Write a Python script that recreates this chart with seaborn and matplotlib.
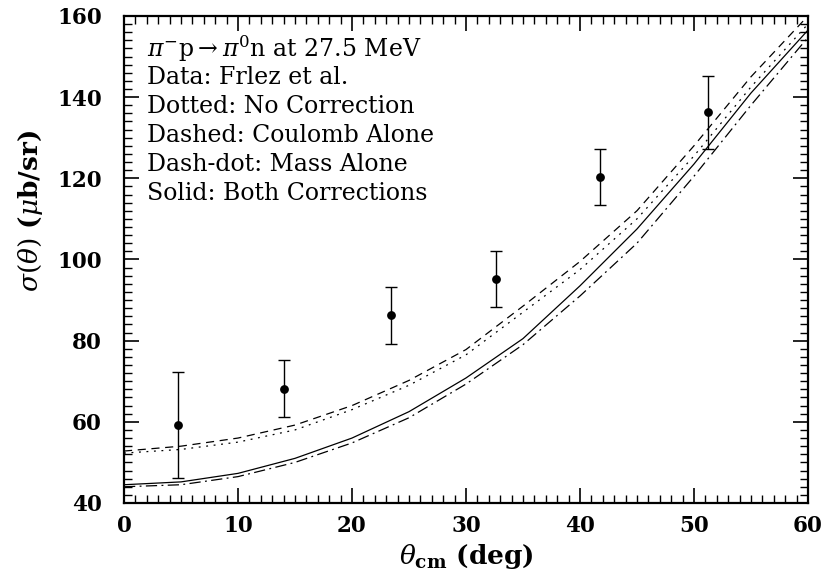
import numpy as np
import pandas as pd
import matplotlib
matplotlib.use("Agg")
import matplotlib.pyplot as plt
import seaborn as sns
from matplotlib.ticker import MultipleLocator

# measured cross sections (Frlez et al.)
theta_data = [4.7, 14.0, 23.4, 32.6, 41.8, 51.2]
sigma_data = [59.2, 68.2, 86.2, 95.2, 120.3, 136.3]
sigma_err = [13.0, 7.0, 7.0, 7.0, 7.0, 9.0]

# model curves
theta_curve = [0, 5, 10, 15, 20, 25, 30, 35, 40, 45, 50, 55, 60]
sigma_none = [52.3, 53.2, 55.0, 58.0, 63.0, 69.0, 76.5, 87.0, 97.5, 110.0, 125.5, 142.5, 158.0]
sigma_coulomb = [52.8, 54.0, 56.0, 59.2, 64.0, 70.2, 77.8, 88.5, 99.5, 112.0, 128.0, 145.0, 160.0]
sigma_mass = [44.0, 44.5, 46.5, 50.0, 54.8, 61.0, 69.3, 79.0, 91.0, 104.0, 120.5, 138.0, 154.7]
sigma_both = [44.5, 45.2, 47.3, 51.0, 56.0, 62.5, 70.8, 80.5, 93.5, 107.5, 123.5, 141.0, 156.5]

sns.set_style("ticks")
plt.rcParams['font.family'] = ['DejaVu Serif']
plt.rcParams['mathtext.fontset'] = 'dejavuserif'
plt.rcParams['text.color'] = 'black'
plt.rcParams['axes.labelcolor'] = 'black'

fig = plt.figure(figsize=(8.24, 5.84), dpi=100)
ax = fig.add_axes([0.1505, 0.1387, 0.830, 0.834])

curves = [
    (sigma_none, (0, (1.5, 4.5))),
    (sigma_coulomb, (0, (6.5, 4.5))),
    (sigma_mass, (0, (9, 3.5, 1.5, 3.5))),
    (sigma_both, '-'),
]
for vals, ls in curves:
    df = pd.DataFrame({'theta': theta_curve, 'sigma': vals})
    sns.lineplot(data=df, x='theta', y='sigma', ax=ax, color='black',
                 linewidth=0.9, linestyle=ls)

ax.errorbar(theta_data, sigma_data, yerr=sigma_err, fmt='none', ecolor='black',
            elinewidth=1.0, capsize=4.5, capthick=1.0)
sns.scatterplot(x=theta_data, y=sigma_data, ax=ax, color='black', s=40,
                edgecolor='black', linewidth=0, zorder=5)

ax.set_xlim(0, 60)
ax.set_ylim(40, 160)
ax.xaxis.set_major_locator(MultipleLocator(10))
ax.xaxis.set_minor_locator(MultipleLocator(1))
ax.yaxis.set_major_locator(MultipleLocator(20))
ax.yaxis.set_minor_locator(MultipleLocator(2))
ax.tick_params(which='both', direction='in', top=True, right=True, color='black',
               labelcolor='black')
ax.tick_params(which='major', length=11, width=1.2, labelsize=15.5)
ax.tick_params(axis='x', which='major', pad=9)
ax.tick_params(axis='y', which='major', pad=16)
ax.tick_params(which='minor', length=5.5, width=1.0)
for lab in ax.get_xticklabels() + ax.get_yticklabels():
    lab.set_fontweight('bold')
for sp in ax.spines.values():
    sp.set_linewidth(1.6)
    sp.set_color('black')

ax.set_xlabel(r'$\theta_{\mathbf{cm}}$ (deg)', fontsize=19, fontweight='bold')
ax.set_ylabel(r'$\sigma(\theta)$ ($\mu$b/sr)', fontsize=19, fontweight='bold')
ax.xaxis.set_label_coords(0.5, -0.08)
ax.yaxis.set_label_coords(-0.115, 0.6)

lines = [
    r'$\pi^{-}$p$\rightarrow$$\pi^{0}$n at 27.5 MeV',
    'Data: Frlez et al.',
    'Dotted: No Correction',
    'Dashed: Coulomb Alone',
    'Dash-dot: Mass Alone',
    'Solid: Both Corrections',
]
y0 = 0.932
for i, t in enumerate(lines):
    ax.text(0.033, y0 - i * 0.0592, t, transform=ax.transAxes, fontsize=17,
            va='center', ha='left', color='black')

fig.savefig('out.png', dpi=100)
